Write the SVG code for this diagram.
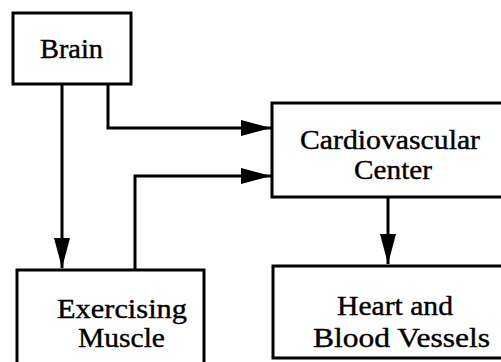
<svg xmlns="http://www.w3.org/2000/svg" width="501" height="362" viewBox="0 0 501 362">
<style>
.box{fill:#fff;stroke:#000;stroke-width:3}
.t{font-family:"Liberation Serif","Times New Roman",serif;font-size:28px;fill:#000;stroke:#000;stroke-width:0.4;text-anchor:middle}
.c{fill:none;stroke:#000;stroke-width:3}
</style>
<defs>
<marker id="ah" markerUnits="userSpaceOnUse" markerWidth="32" markerHeight="18" refX="30" refY="9" orient="auto">
<path d="M0,1 L30,9 L0,17 Z" fill="#000"/>
</marker>
</defs>
<rect width="501" height="362" fill="#fff"/>
<g id="connectors">
<path class="c" d="M62,84 V268" marker-end="url(#ah)"/>
<path class="c" d="M108,84 V128 H271" marker-end="url(#ah)"/>
<path class="c" d="M135,270 V176 H271" marker-end="url(#ah)"/>
<path class="c" d="M388,198 V264" marker-end="url(#ah)"/>
</g>
<g id="brain">
<rect class="box" x="13" y="13" width="118" height="71"/>
<text class="t" x="71.5" y="58" textLength="63" lengthAdjust="spacingAndGlyphs">Brain</text>
</g>
<g id="cardio">
<rect class="box" x="272" y="103" width="240" height="94"/>
<text class="t" x="390" y="149" textLength="180" lengthAdjust="spacingAndGlyphs">Cardiovascular</text>
<text class="t" x="393" y="179" textLength="78" lengthAdjust="spacingAndGlyphs">Center</text>
</g>
<g id="muscle">
<rect class="box" x="17" y="270" width="187" height="110"/>
<text class="t" x="122" y="318" textLength="130" lengthAdjust="spacingAndGlyphs">Exercising</text>
<text class="t" x="121.5" y="347" textLength="87" lengthAdjust="spacingAndGlyphs">Muscle</text>
</g>
<g id="heart">
<rect class="box" x="273" y="266" width="240" height="92"/>
<text class="t" x="395" y="315" textLength="116" lengthAdjust="spacingAndGlyphs">Heart and</text>
<text class="t" x="401.5" y="347" textLength="177" lengthAdjust="spacingAndGlyphs">Blood Vessels</text>
</g>
</svg>
